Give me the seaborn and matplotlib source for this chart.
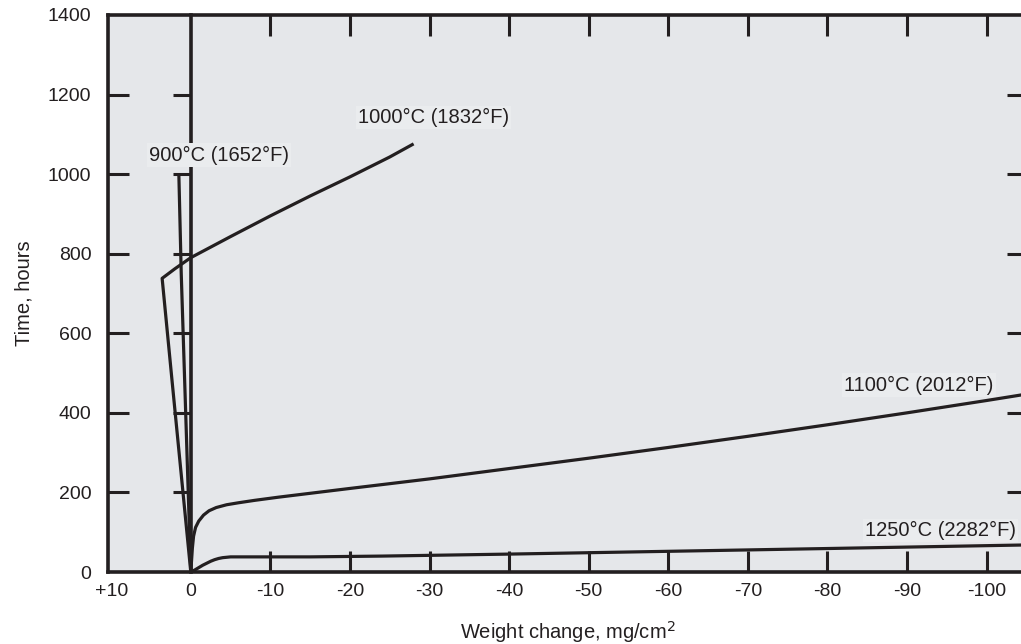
import pandas as pd
import matplotlib
matplotlib.use('Agg')
import matplotlib.pyplot as plt
import seaborn as sns

# Curve data (weight change mg/cm^2, time hours)
w_900 = [0, 0.4, 0.8, 1.2, 1.5]
t_900 = [0, 250, 500, 750, 1000]

w_1000 = [0, 1.2, 2.4, 3.6, 2.0, 0, -5, -10, -15, -20, -25, -28]
t_1000 = [0, 245, 490, 738, 762, 790, 843, 895, 945, 993, 1043, 1076]

w_1100 = [0, -0.1, -0.2, -0.35, -0.6, -1.0, -1.6, -2.3, -3.2, -4.5, -6, -8, -11,
          -20, -30, -40, -50, -60, -70, -80, -90, -100, -105]
t_1100 = [0, 30, 60, 90, 112, 128, 143, 154, 162, 169, 174, 180, 188,
          210, 234, 260, 286, 313, 341, 370, 400, 431, 447]

w_1250 = [0, -0.5, -1, -1.5, -2, -2.5, -3, -3.5, -4, -5, -6, -8,
          -15, -24, -40, -60, -80, -105]
t_1250 = [0, 5, 11, 17, 22, 27, 31, 34, 36, 38, 38, 38,
          38, 40, 45, 52, 59, 68]

labels = ['900°C (1652°F)', '1000°C (1832°F)', '1100°C (2012°F)', '1250°C (2282°F)']
label_x = [-3.6, -30.5, -91.5, -94.2]
label_y = [1048, 1143, 470, 105]

x_ticks = [10, 0, -10, -20, -30, -40, -50, -60, -70, -80, -90, -100]
x_ticklabels = ['+10', '0', '-10', '-20', '-30', '-40', '-50', '-60', '-70', '-80', '-90', '-100']
y_ticks = [0, 200, 400, 600, 800, 1000, 1200, 1400]
zero_line_ticks = [200, 400, 600, 800, 1000, 1200]

ink = '#231f20'
x_left, x_right = 10.4, -105.2

sns.set_theme(style="ticks")
plt.rcParams['font.family'] = ['Liberation Sans', 'DejaVu Sans']

fig = plt.figure(figsize=(10.21, 6.44), dpi=100)
ax = fig.add_axes([0.1058, 0.1118, 0.901, 0.865])
ax.set_facecolor('#e5e7ea')

curves = [(w_900, t_900), (w_1000, t_1000), (w_1100, t_1100), (w_1250, t_1250)]
for w, t in curves:
    df = pd.DataFrame({'w': w, 't': t})
    sns.lineplot(data=df, x='w', y='t', sort=False, estimator=None, color=ink,
                 linewidth=2.3, ax=ax, solid_capstyle='butt', solid_joinstyle='round')

for txt, lx, ly in zip(labels, label_x, label_y):
    ax.text(lx, ly, txt, ha='center', va='center', fontsize=14.5, color=ink,
            bbox=dict(facecolor='#eaecee', edgecolor='none', pad=1.5))

ax.set_xlim(x_left, x_right)
ax.set_ylim(0, 1400)
ax.set_xticks(x_ticks)
ax.set_xticklabels(x_ticklabels)
ax.set_yticks(y_ticks)

for s in ax.spines.values():
    s.set_visible(True)
    s.set_linewidth(2.6)
    s.set_color(ink)

ax.tick_params(axis='both', direction='in', length=15, width=2.2, color=ink,
               labelsize=14, labelcolor=ink, top=True, right=True)
ax.tick_params(axis='x', pad=8)
ax.tick_params(axis='y', pad=12)

# no tick marks where they would sit on a spine or on the zero line
for tk in ax.xaxis.get_major_ticks()[:2]:
    tk.tick1line.set_visible(False)
    tk.tick2line.set_visible(False)
for i in (0, -1):
    tk = ax.yaxis.get_major_ticks()[i]
    tk.tick1line.set_visible(False)
    tk.tick2line.set_visible(False)

# zero line with its own left-pointing ticks
zero_frac = (x_left - 0) / (x_left - x_right)
zax = ax.secondary_yaxis(zero_frac)
zax.set_yticks(zero_line_ticks)
zax.tick_params(direction='out', length=13, width=2.2, color=ink, labelleft=False)
zax.spines['left'].set_linewidth(2.6)
zax.spines['left'].set_color(ink)

ax.set_xlabel('Weight change, mg/cm$^2$', fontsize=14.5, color=ink, labelpad=14)
ax.set_ylabel('Time, hours', fontsize=14.5, color=ink, labelpad=10)

fig.savefig('out.png', dpi=100)
